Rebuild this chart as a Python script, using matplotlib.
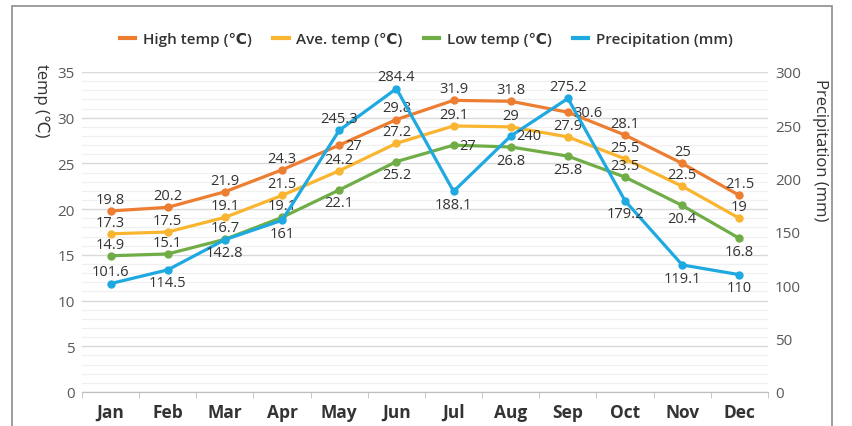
import matplotlib
matplotlib.use("Agg")
import matplotlib.pyplot as plt
from matplotlib.patches import Rectangle
import numpy as np

months = ["Jan", "Feb", "Mar", "Apr", "May", "Jun", "Jul", "Aug", "Sep", "Oct", "Nov", "Dec"]
high_temp = [19.8, 20.2, 21.9, 24.3, 27, 29.8, 31.9, 31.8, 30.6, 28.1, 25, 21.5]
ave_temp = [17.3, 17.5, 19.1, 21.5, 24.2, 27.2, 29.1, 29, 27.9, 25.5, 22.5, 19]
low_temp = [14.9, 15.1, 16.7, 19.1, 22.1, 25.2, 27, 26.8, 25.8, 23.5, 20.4, 16.8]
precip = [101.6, 114.5, 142.8, 161, 245.3, 284.4, 188.1, 240, 275.2, 179.2, 119.1, 110]

# where each data label sits: a=above, b=below, r=right
high_pos = ["a", "a", "a", "a", "r", "a", "a", "a", "r", "a", "a", "a"]
ave_pos = ["a"] * 12
low_pos = ["a", "a", "a", "a", "b", "b", "r", "b", "b", "a", "b", "b"]
precip_pos = ["a", "b", "b", "b", "a", "a", "b", "r", "a", "b", "b", "b"]

c_high = "#ED7D31"
c_ave = "#F9B52F"
c_low = "#70AD47"
c_prec = "#1FA9E1"
txt = "#333333"

plt.rcParams['font.family'] = ['Open Sans', 'DejaVu Sans']

fig = plt.figure(figsize=(8.53, 4.27), dpi=100)
fig.patches.append(Rectangle((12 / 853, -0.05), (832 - 12) / 853, 1 - 7 / 427 + 0.05,
                             transform=fig.transFigure, fill=False, edgecolor="#8C8C8C", linewidth=1.2))

ax = fig.add_axes([82 / 853, 1 - 393 / 427, (768 - 82) / 853, (393 - 73) / 427])
ax2 = ax.twinx()

x = np.arange(len(months))


def label_points(axis, xs, ys, pos):
    for xi, yi, p in zip(xs, ys, pos):
        s = f"{yi:g}"
        if p == "a":
            axis.annotate(s, (xi, yi), xytext=(0, 3), textcoords="offset points",
                          ha="center", va="bottom", fontsize=10.5, color=txt)
        elif p == "b":
            axis.annotate(s, (xi, yi), xytext=(0, -4), textcoords="offset points",
                          ha="center", va="top", fontsize=10.5, color=txt)
        else:
            axis.annotate(s, (xi, yi), xytext=(4, 0), textcoords="offset points",
                          ha="left", va="center", fontsize=10.5, color=txt)


for ys, col, pos in [(high_temp, c_high, high_pos), (ave_temp, c_ave, ave_pos), (low_temp, c_low, low_pos)]:
    ax.plot(x, ys, color=col, linewidth=2.3, marker="o", markersize=5, zorder=3)
    label_points(ax, x, ys, pos)

ax2.plot(x, precip, color=c_prec, linewidth=2.3, marker="o", markersize=5, zorder=3)
label_points(ax2, x, precip, precip_pos)

ax.set_xlim(-0.5, 11.5)
ax.set_ylim(0, 35)
ax2.set_ylim(0, 300)
ax.set_yticks(np.arange(0, 36, 5))
ax.set_yticks(np.arange(0, 36, 1), minor=True)
ax2.set_yticks(np.arange(0, 301, 50))
ax.grid(axis="y", which="major", color="#D9D9D9", linewidth=1)
ax.grid(axis="y", which="minor", color="#F0F0F0", linewidth=0.9)
ax.set_axisbelow(True)

ax.set_xticks(x)
ax.set_xticklabels(months, fontsize=12.5, fontweight="bold", color=txt)
ax.set_xticks(np.arange(-0.5, 12, 1), minor=True)
ax.tick_params(axis="x", which="major", length=0, pad=8)
ax.tick_params(axis="x", which="minor", length=4, color="#BFBFBF")
ax.tick_params(axis="y", which="both", length=0, labelsize=11, labelcolor="#595959", pad=5)
ax2.tick_params(axis="y", length=0, labelsize=11, labelcolor="#595959", pad=5)

for a in (ax, ax2):
    for side in ["top", "left", "right"]:
        a.spines[side].set_visible(False)
    a.spines["bottom"].set_color("#BFBFBF")

ax.set_ylabel("temp (℃)", rotation=270, fontsize=12, color=txt, va="center", ha="center")
ax.yaxis.set_label_coords(-0.06, 0.915)
ax2.set_ylabel("Precipitation (mm)", rotation=270, fontsize=12, color=txt, va="center", ha="center")
ax2.yaxis.set_label_coords(1.076, 0.76)

handles = [plt.Line2D([], [], color=c, linewidth=3) for c in (c_high, c_ave, c_low, c_prec)]
names = ["High temp (℃)", "Ave. temp (℃)", "Low temp (℃)", "Precipitation (mm)"]
fig.legend(handles, names, loc="center", bbox_to_anchor=(0.5, 1 - 40 / 427), ncol=4, frameon=False,
           prop={"size": 11, "weight": "semibold"}, handlelength=1.0, handletextpad=0.5, columnspacing=1.4,
           labelcolor=txt)

fig.savefig("out.png", dpi=100)
